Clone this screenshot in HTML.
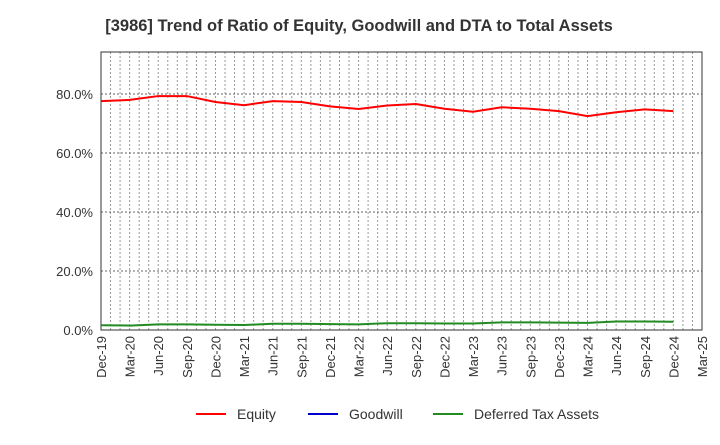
<!DOCTYPE html>
<html><head><meta charset="utf-8"><style>
body{margin:0;background:#fff;font-family:"Liberation Sans",sans-serif}
svg text{font-family:"Liberation Sans",sans-serif}
</style></head><body>
<svg id="chart" width="720" height="440">
<text x="359" y="31" text-anchor="middle" font-size="16.5" font-weight="bold" fill="#333">[3986]  Trend of Ratio of Equity, Goodwill and DTA to Total Assets</text>
<g id="grid"></g><g id="axes"></g><g id="series"></g>
<g>
<line x1="196" y1="414" x2="226" y2="414" stroke="#ff0000" stroke-width="2"/><text x="237" y="419" font-size="14" fill="#333">Equity</text>
<line x1="308" y1="414" x2="338" y2="414" stroke="#0000cc" stroke-width="2"/><text x="349" y="419" font-size="14" fill="#333">Goodwill</text>
<line x1="433" y1="414" x2="463" y2="414" stroke="#228b22" stroke-width="2"/><text x="474" y="419" font-size="14" fill="#333">Deferred Tax Assets</text>
</g>
</svg>
<script>
const categories=["Dec-19","Mar-20","Jun-20","Sep-20","Dec-20","Mar-21","Jun-21","Sep-21","Dec-21","Mar-22","Jun-22","Sep-22","Dec-22","Mar-23","Jun-23","Sep-23","Dec-23","Mar-24","Jun-24","Sep-24","Dec-24","Mar-25"];
const equity=[77.6,78.0,79.3,79.3,77.3,76.2,77.6,77.3,75.8,74.9,76.1,76.6,75.0,74.0,75.5,75.0,74.2,72.5,73.8,74.8,74.2];
const dta=[1.6,1.5,1.9,1.9,1.8,1.7,2.1,2.1,2.0,1.9,2.3,2.3,2.2,2.2,2.6,2.6,2.5,2.4,2.9,2.9,2.8];
const yTicks=[0,20,40,60,80];
const L=101,R=702,T=52,B=330;
const xs=i=>L+(R-L)*i/(categories.length-1);
const ys=v=>B-(B-94)*v/80;
const NS="http://www.w3.org/2000/svg";
function mk(p,tag,a){const e=document.createElementNS(NS,tag);for(const k in a)e.setAttribute(k,a[k]);document.getElementById(p).appendChild(e);return e;}
const nMonths=(categories.length-1)*3;
for(let m=1;m<nMonths;m++){const x=L+(R-L)*m/nMonths;
const g=mk("grid","line",{x1:x,x2:x,y1:T,y2:B,stroke:"#999","stroke-dasharray":"2,2","stroke-width":1});

}
yTicks.forEach(v=>{const y=ys(v);
if(v>0){const g=mk("grid","line",{x1:L,x2:R,y1:y,y2:y,stroke:"#666","stroke-dasharray":"2,2","stroke-width":1});

}
const t=mk("axes","text",{x:L-8,y:y+5,"text-anchor":"end","font-size":13,fill:"#333"});t.textContent=v.toFixed(1)+"%";

});
const fr=mk("axes","rect",{x:L,y:T,width:R-L,height:B-T,fill:"none",stroke:"#333","stroke-width":1});


categories.forEach((c,i)=>{const x=xs(i);
const t=mk("axes","text",{transform:`translate(${x+5},${B+6}) rotate(-90)`,"text-anchor":"end","font-size":13,fill:"#333"});t.textContent=c;

});
function line(arr,color,name){const p=mk("series","polyline",{points:arr.map((v,i)=>xs(i)+","+ys(v)).join(" "),fill:"none",stroke:color,"stroke-width":2});

}
line(equity,"#ff0000","equity-line");
line(dta,"#228b22","dta-line");
</script>
</body></html>
